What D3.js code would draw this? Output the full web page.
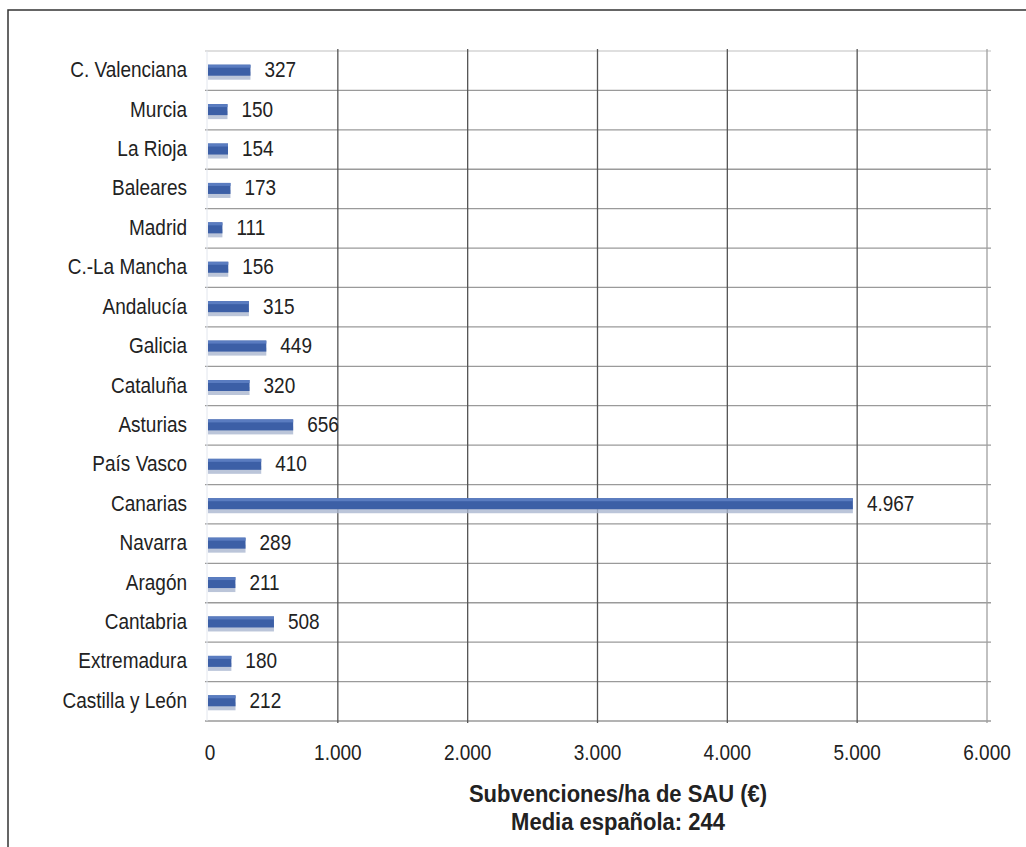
<!DOCTYPE html>
<html>
<head>
<meta charset="utf-8">
<script src="https://cdn.jsdelivr.net/npm/d3@7"></script>
<style>
  html, body { margin: 0; padding: 0; background: #fff; }
  svg { display: block; }
  text { font-family: "Liberation Sans", Arial, sans-serif; fill: #222; }
</style>
</head>
<body>
<svg id="chart" width="1026" height="847"></svg>
<script>
const regions = ["C. Valenciana","Murcia","La Rioja","Baleares","Madrid","C.-La Mancha","Andalucía","Galicia","Cataluña","Asturias","País Vasco","Canarias","Navarra","Aragón","Cantabria","Extremadura","Castilla y León"];
const values = [327,150,154,173,111,156,315,449,320,656,410,4967,289,211,508,180,212];
const valueLabels = ["327","150","154","173","111","156","315","449","320","656","410","4.967","289","211","508","180","212"];
const xTicks = [0,1000,2000,3000,4000,5000,6000];
const xTickLabels = ["0","1.000","2.000","3.000","4.000","5.000","6.000"];
const titleLines = ["Subvenciones/ha de SAU (€)","Media española: 244"];

(function () {
const svg = d3.select("#chart");
const pL = 208, pR = 987, pT = 51, pB = 721;
const SY = 1.12;

const x = d3.scaleLinear().domain([0, 6000]).range([pL, pR]);
const y = d3.scaleBand().domain(regions).range([pT, pB]).padding(0);

// frame
svg.append("path").attr("d", "M8,847 L8,10 L1026,10").attr("fill","none").attr("stroke","#333").attr("stroke-width",1.5);

// horizontal grid
const hLines = d3.range(regions.length + 1).map(i => pT + i * y.step());
svg.append("g").selectAll("line").data(hLines).join("line")
  .attr("x1", pL - 3).attr("x2", pR + 4)
  .attr("y1", d => d).attr("y2", d => d)
  .attr("stroke", (d,i) => i === 0 ? "#d4d4d4" : "#9a9a9a").attr("stroke-width", 1.3);

// vertical grid
svg.append("g").selectAll("line").data(xTicks.slice(1)).join("line")
  .attr("x1", d => x(d)).attr("x2", d => x(d))
  .attr("y1", pT - 2).attr("y2", pB + 2)
  .attr("stroke", d => d === 6000 ? "#a0a0a0" : "#555").attr("stroke-width", 1.3);
svg.append("line").attr("x1", pL - 1).attr("x2", pL - 1).attr("y1", pT).attr("y2", pB)
  .attr("stroke", "#e2e6ee").attr("stroke-width", 1);

// bars
const rows = svg.append("g").selectAll("g").data(regions).join("g");
rows.append("rect")
  .attr("x", x(0)).attr("y", d => y(d) + y.bandwidth()/2 + 1)
  .attr("width", (d,i) => x(values[i]) - x(0)).attr("height", 8)
  .attr("fill", "#aab6cf").attr("opacity", 0.8);
rows.append("rect")
  .attr("x", x(0)).attr("y", d => y(d) + y.bandwidth()/2 - 6)
  .attr("width", (d,i) => x(values[i]) - x(0)).attr("height", 11)
  .attr("fill", "#3c5fa6");
rows.append("rect")
  .attr("x", x(0)).attr("y", d => y(d) + y.bandwidth()/2 - 6)
  .attr("width", (d,i) => x(values[i]) - x(0)).attr("height", 3)
  .attr("fill", "#5a7cc0");

// value labels
rows.append("text")
  .attr("transform", (d,i) => `translate(${x(values[i]) + 14},${y(d) + y.bandwidth()/2 + 6.5}) scale(1,${SY})`)
  .attr("font-size", 19)
  .text((d,i) => valueLabels[i]);

// category labels
svg.append("g").selectAll("text").data(regions).join("text")
  .attr("transform", d => `translate(187,${y(d) + y.bandwidth()/2 + 6.5}) scale(1,${SY})`)
  .attr("text-anchor", "end").attr("font-size", 19)
  .text(d => d);

// x tick labels
svg.append("g").selectAll("text").data(xTicks).join("text")
  .attr("transform", d => `translate(${x(d) + (d === 0 ? 2 : 0)},760) scale(1,${SY})`)
  .attr("text-anchor", "middle").attr("font-size", 19)
  .text((d,i) => xTickLabels[i]);

// title
svg.append("g").selectAll("text").data(titleLines).join("text")
  .attr("transform", (d,i) => `translate(618,${802 + i * 28}) scale(1,1.1)`)
  .attr("text-anchor", "middle").attr("font-size", 22).attr("font-weight", "bold")
  .text(d => d);
})();
</script>
</body>
</html>
